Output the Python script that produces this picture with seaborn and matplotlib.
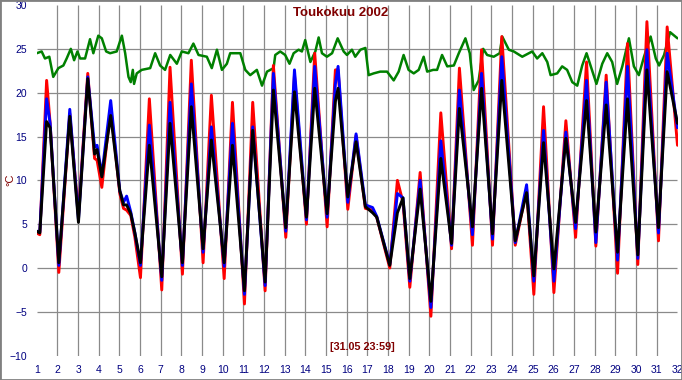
import pandas as pd
import matplotlib
matplotlib.use("Agg")
import matplotlib.pyplot as plt
from matplotlib.ticker import MultipleLocator
import seaborn as sns

sns.set_style("white")
plt.rcParams['font.family'] = ['Liberation Sans', 'DejaVu Sans']

# time in days of May (1 = 1.5. 00:00) at the daily lows/highs
t_days = [1.00, 1.15, 1.48, 1.65, 2.07, 2.60, 3.02, 3.47, 3.80, 3.92, 4.15, 4.58,
          5.02, 5.20, 5.35, 5.55, 5.75, 6.02, 6.45, 7.05, 7.45, 8.05, 8.48, 9.05,
          9.45, 10.07, 10.47, 11.05, 11.45, 12.05, 12.45, 13.05, 13.47, 14.05, 14.45,
          15.05, 15.45, 15.58, 16.05, 16.45, 16.90, 17.25, 17.45, 18.08, 18.45, 18.72,
          19.05, 19.55, 20.07, 20.55, 21.07, 21.45, 22.08, 22.52, 23.05, 23.50, 24.15,
          24.70, 25.05, 25.52, 26.02, 26.60, 27.07, 27.60, 28.05, 28.55, 29.10, 29.58,
          30.08, 30.52, 31.08, 31.50, 32.00]

temp_black = [4.2, 4.0, 16.7, 16.0, 0.6, 17.3, 5.2, 21.6, 13.0, 13.5, 10.4, 17.4,
              8.8, 7.2, 7.2, 6.2, 4.0, 0.6, 14.0, -1.0, 16.5, 0.6, 18.4, 2.2,
              14.6, 0.6, 14.0, -2.6, 15.7, -1.6, 20.3, 4.6, 20.1, 5.8, 20.5,
              6.2, 19.0, 20.5, 8.1, 14.4, 7.0, 6.3, 5.8, 0.3, 6.3, 8.0,
              -1.2, 9.0, -3.8, 12.5, 2.8, 18.2, 4.7, 20.5, 3.9, 21.4, 3.1,
              8.6, -0.9, 14.3, -0.1, 14.8, 5.2, 19.1, 4.1, 18.6, 1.8, 19.3,
              1.5, 22.6, 4.6, 22.4, 16.5]

temp_blue = [4.2, 4.1, 19.3, 16.5, 0.3, 18.1, 5.5, 21.8, 13.8, 14.0, 10.6, 19.1,
             8.8, 7.5, 8.2, 6.4, 4.0, 0.3, 16.3, -1.4, 18.9, 0.3, 21.0, 1.8,
             16.1, 0.2, 16.5, -3.0, 16.1, -2.0, 22.2, 4.2, 22.6, 5.5, 23.0,
             5.8, 21.0, 23.0, 7.5, 15.3, 7.2, 6.9, 5.9, 0.4, 8.5, 8.0,
             -1.5, 10.0, -4.5, 14.5, 2.6, 20.3, 3.8, 22.2, 3.3, 24.1, 2.9,
             9.5, -1.5, 15.7, -1.5, 15.5, 4.5, 21.4, 2.9, 21.2, 0.9, 23.0,
             1.1, 24.9, 4.0, 24.5, 16.0]

temp_red = [4.0, 3.8, 21.4, 16.5, -0.5, 17.6, 6.0, 22.2, 12.5, 12.3, 9.2, 18.3,
            8.5, 6.8, 6.6, 6.0, 3.5, -1.1, 19.3, -2.5, 22.9, -0.7, 23.7, 0.6,
            19.7, -1.2, 18.9, -4.1, 18.9, -2.6, 23.1, 3.5, 22.0, 5.0, 24.5,
            4.7, 22.6, 22.6, 6.7, 15.1, 6.8, 6.6, 5.8, 0.0, 10.0, 7.5,
            -2.2, 10.9, -5.5, 17.7, 2.2, 22.8, 2.6, 24.9, 2.6, 26.4, 2.6,
            9.0, -3.0, 18.4, -2.8, 16.8, 3.5, 23.5, 2.5, 22.0, -0.6, 25.6,
            0.4, 28.1, 3.1, 27.5, 14.0]

green_days = [1.00, 1.24, 1.40, 1.61, 1.80, 2.05, 2.29, 2.45, 2.65, 2.81, 2.97, 3.10,
              3.34, 3.58, 3.74, 3.98, 4.15, 4.36, 4.55, 4.87, 5.12, 5.28, 5.44, 5.55,
              5.65, 5.71, 5.84, 6.08, 6.49, 6.73, 6.97, 7.21, 7.46, 7.78, 8.02, 8.34,
              8.58, 8.83, 9.23, 9.47, 9.72, 9.96, 10.20, 10.36, 10.85, 11.09, 11.33,
              11.65, 11.90, 12.14, 12.46, 12.54, 12.78, 13.02, 13.23, 13.43, 13.67,
              13.83, 13.99, 14.24, 14.48, 14.64, 14.80, 15.04, 15.29, 15.56, 15.85,
              16.01, 16.25, 16.41, 16.66, 16.90, 17.06, 17.30, 17.62, 17.95, 18.27,
              18.51, 18.75, 18.99, 19.24, 19.48, 19.72, 19.89, 20.18, 20.37, 20.61,
              20.86, 21.18, 21.42, 21.74, 21.95, 22.14, 22.38, 22.60, 22.79, 23.11,
              23.40, 23.52, 23.84, 24.08, 24.49, 24.97, 25.21, 25.46, 25.70, 25.86,
              26.18, 26.42, 26.66, 26.91, 27.15, 27.39, 27.60, 27.79, 28.08, 28.36,
              28.60, 28.84, 29.08, 29.33, 29.65, 29.89, 30.13, 30.38, 30.70, 30.95,
              31.11, 31.35, 31.64, 32.00]

green_vals = [24.5, 24.7, 23.9, 24.1, 21.8, 22.8, 23.1, 23.9, 25.0, 23.7, 24.7, 23.9,
              23.9, 26.1, 24.5, 26.5, 26.2, 24.7, 24.5, 24.7, 26.5, 24.5, 21.8, 21.2,
              22.6, 21.0, 22.2, 22.6, 22.8, 24.5, 23.1, 22.6, 24.3, 23.3, 24.7, 24.5,
              25.6, 24.3, 24.1, 22.8, 24.9, 22.6, 23.3, 24.5, 24.5, 22.6, 22.0,
              22.6, 20.8, 22.4, 22.8, 24.3, 24.7, 24.3, 23.3, 24.5, 24.9,
              24.7, 26.0, 23.5, 24.7, 26.3, 24.5, 24.1, 24.5, 26.2, 24.7,
              24.3, 24.9, 24.1, 24.9, 25.1, 22.0, 22.2, 22.4, 22.4, 21.4,
              22.4, 24.3, 22.6, 22.2, 22.6, 24.1, 22.4, 22.6, 22.6, 24.3,
              23.0, 23.1, 24.5, 26.2, 24.5, 20.3, 21.4, 25.0, 24.3, 24.1,
              24.5, 26.4, 24.9, 24.7, 24.1, 24.7, 23.9, 24.5, 23.5, 22.0,
              22.2, 23.0, 22.6, 21.2, 20.8, 23.1, 24.5, 23.1, 21.0, 23.3,
              24.5, 23.5, 21.0, 23.0, 26.2, 23.0, 22.0, 24.1, 26.4, 23.9,
              23.1, 24.3, 26.9, 26.2]

x_ticks = list(range(1, 33))
y_ticks = [-10, -5, 0, 5, 10, 15, 20, 25, 30]

df = pd.DataFrame({'day': t_days, 'red': temp_red, 'blue': temp_blue, 'black': temp_black})
dg = pd.DataFrame({'day': green_days, 'green': green_vals})

fig = plt.figure(figsize=(6.82, 3.80), dpi=100)
ax = fig.add_axes([36.7 / 682, 24.3 / 380, 640.8 / 682, 350.7 / 380])

# grid lines only inside the frame
ax.vlines(x_ticks[1:-1], y_ticks[0], y_ticks[-1], color='#8a8a8a', lw=0.9, zorder=0)
ax.hlines(y_ticks[1:-1], x_ticks[0], x_ticks[-1], color='#8a8a8a', lw=0.9, zorder=0)

sns.lineplot(data=dg, x='day', y='green', color='#008000', lw=1.8, ax=ax)
sns.lineplot(data=df, x='day', y='red', color='#ff0000', lw=2.1, ax=ax)
sns.lineplot(data=df, x='day', y='blue', color='#0000ff', lw=2.1, ax=ax)
sns.lineplot(data=df, x='day', y='black', color='#000000', lw=2.1, ax=ax)

ax.set_xlim(x_ticks[0], x_ticks[-1])
ax.set_ylim(y_ticks[0], y_ticks[-1])
ax.set_xticks(x_ticks)
ax.set_yticks(y_ticks)
ax.xaxis.set_minor_locator(MultipleLocator(0.2))
ax.yaxis.set_minor_locator(MultipleLocator(1))
ax.set_xlabel('')
ax.set_ylabel('')
for s in ax.spines.values():
    s.set_visible(False)

ax.tick_params(axis='both', which='major', direction='out', length=5.5, width=0.8,
               color='black', labelcolor='#000080', labelsize=7.5)
ax.tick_params(axis='both', which='minor', direction='out', length=3, width=0.8, color='black')
ax.tick_params(axis='y', which='major', pad=1.5)
ax.tick_params(axis='x', which='major', pad=1.5)

fig.text(341 / 682, 1 - 13 / 380, 'Toukokuu 2002', ha='center', va='center',
         color='#800000', fontsize=9.5, fontweight='bold')
fig.text(10 / 682, 1 - 180 / 380, '°C', ha='center', va='center', rotation=90,
         color='#800000', fontsize=8)
fig.text(362.5 / 682, 1 - 346.7 / 380, '[31.05 23:59]', ha='center', va='center',
         color='#800000', fontsize=7.8, fontweight='bold')

fig.add_artist(plt.Rectangle((0, 0), 1, 1, transform=fig.transFigure, fill=False,
                             edgecolor='#808080', lw=2))

fig.savefig('out.png', dpi=100)
